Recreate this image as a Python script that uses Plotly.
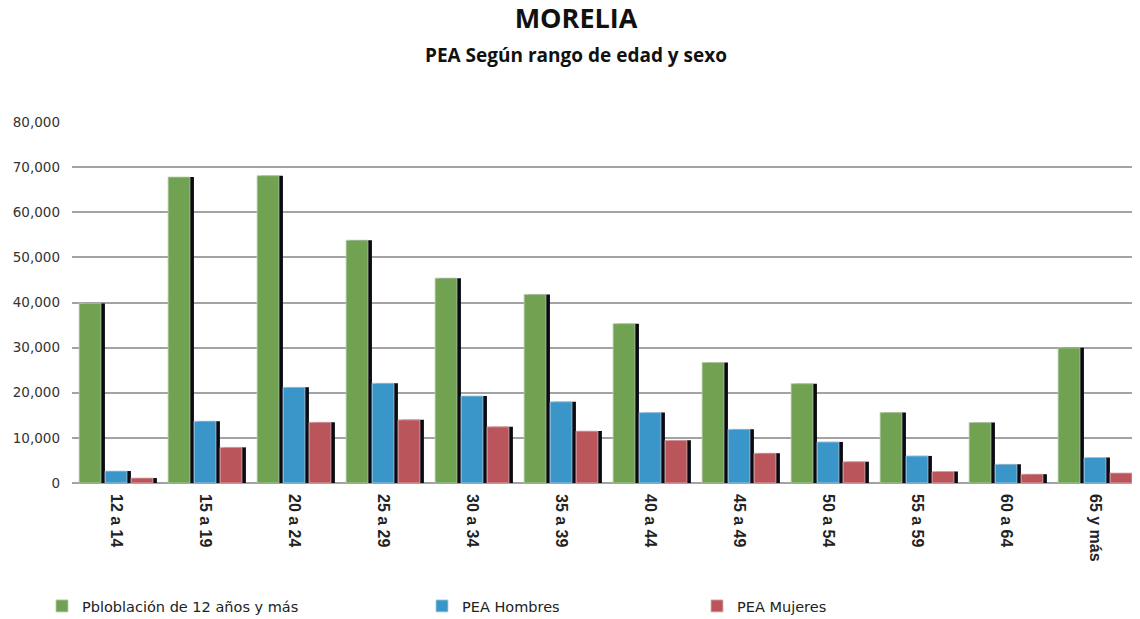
import plotly.graph_objects as go

categories = ["12 a 14", "15 a 19", "20 a 24", "25 a 29", "30 a 34", "35 a 39",
              "40 a 44", "45 a 49", "50 a 54", "55 a 59", "60 a 64", "65 y más"]
poblacion = [39800, 67800, 68100, 53800, 45400, 41800, 35300, 26700, 22000, 15600, 13400, 29950]
hombres = [2650, 13700, 21200, 22100, 19300, 18000, 15600, 11900, 9100, 6000, 4150, 5650]
mujeres = [1100, 7900, 13450, 14000, 12450, 11500, 9450, 6600, 4720, 2550, 1950, 2220]

series_names = ["Pbloblación de 12 años y más", "PEA Hombres", "PEA Mujeres"]
series_values = [poblacion, hombres, mujeres]
colors = ["#70a252", "#3a95c9", "#b9555b"]
edge_colors = ["#b9cdb0", "#b3cfe2", "#ddb3b5"]

face_w = 0.245
step = 0.292
start = -0.42
shadow_dx = 0.045

# page body has an 8px margin, so figure is placed at (8, 8)
W, H = 1132, 611
L, T, PH, PW = 64, 114, 361, 1068

fig = go.Figure()

# shadows first (behind)
for i, vals in enumerate(series_values):
    fig.add_trace(go.Bar(
        x=categories, y=vals, width=face_w, offset=start + i * step + shadow_dx,
        marker=dict(color="#0a0a12", line=dict(width=0)),
        showlegend=False, hoverinfo="skip"))

legend_ids = ["legend", "legend2", "legend3"]
for i, vals in enumerate(series_values):
    fig.add_trace(go.Bar(
        x=categories, y=vals, width=face_w, offset=start + i * step,
        name=series_names[i],
        marker=dict(color=colors[i], line=dict(width=0.8, color=edge_colors[i])),
        legend=legend_ids[i]))

legend_font = dict(family="DejaVu Sans, sans-serif", size=14.5, color="#222")
leg_common = dict(orientation="h", yanchor="middle", y=-(606 - 483) / PH, xanchor="left",
                  font=legend_font, bgcolor="rgba(0,0,0,0)", itemwidth=30,
                  tracegroupgap=0)

fig.update_layout(
    width=W, height=H,
    barmode="overlay",
    plot_bgcolor="white", paper_bgcolor="white",
    margin=dict(l=L, r=0, t=T, b=H - T - PH, autoexpand=False),
    title=dict(text="<b>MORELIA</b>", x=(576 - 8) / W, xanchor="center", xref="container",
               y=1 - (19 - 8) / H, yanchor="middle", yref="container",
               font=dict(family="Open Sans, sans-serif", size=27, color="#111")),
    annotations=[dict(text="<b>PEA Según rango de edad y sexo</b>", xref="paper", yref="paper",
                      x=(576 - 72) / PW, y=1 + (122 - 55) / PH,
                      xanchor="center", yanchor="middle", showarrow=False,
                      font=dict(family="Open Sans, sans-serif", size=19, color="#111"))],
    legend=dict(x=(42 - 72) / PW, **leg_common),
    legend2=dict(x=(422 - 72) / PW, **leg_common),
    legend3=dict(x=(697 - 72) / PW, **leg_common),
    yaxis=dict(range=[0, 80000], dtick=10000, tickformat=",", showgrid=True,
               gridcolor="#a3a3a3", gridwidth=1.5, zeroline=True, zerolinecolor="#a3a3a3",
               zerolinewidth=1.5, showline=False, ticks="", ticklabelstandoff=11,
               tickfont=dict(family="DejaVu Sans, sans-serif", size=13.5, color="#333")),
    xaxis=dict(tickangle=90, showgrid=False, showline=False, ticks="",
               range=[-0.5, 11.5], ticklabelstandoff=10,
               tickfont=dict(family="Liberation Sans, Arial, sans-serif", size=16,
                             color="#222", weight="bold")),
)

fig.write_html("out.html")
